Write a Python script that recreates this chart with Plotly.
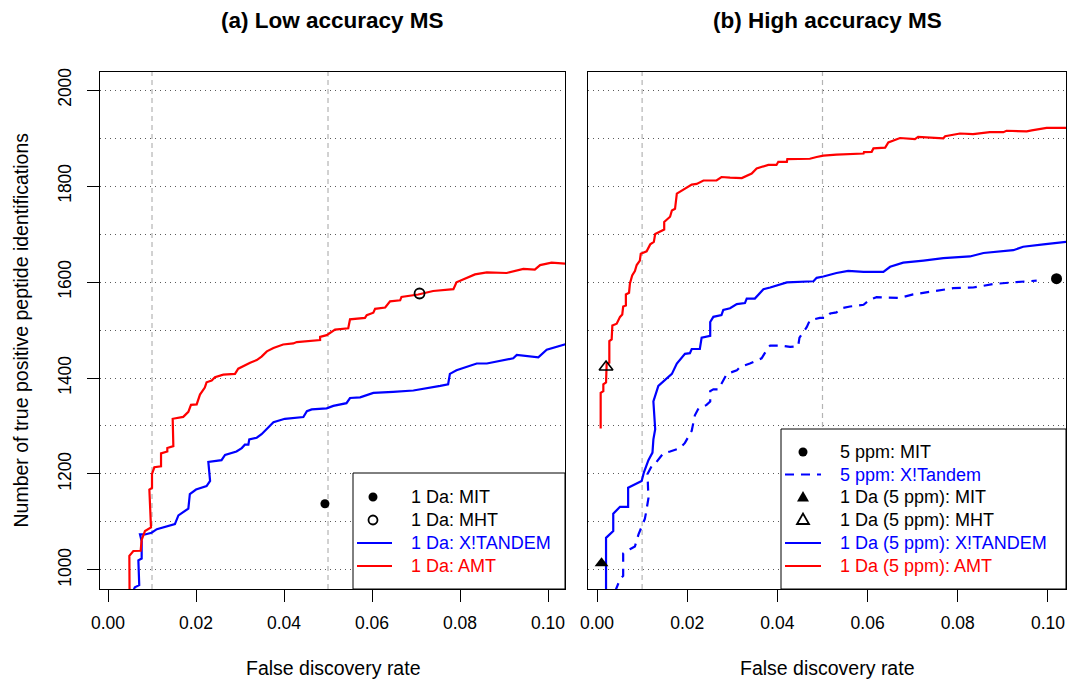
import plotly.graph_objects as go

W, H = 1074, 681

# ---------------- data: panel (a) Low accuracy MS ----------------
A_AMT_FDR = [0.0049, 0.00485, 0.00576, 0.00742, 0.00765, 0.0084, 0.00977, 0.0094, 0.0100, 0.0100,
             0.01053, 0.01205, 0.01205, 0.01348, 0.01348, 0.01485, 0.0147, 0.0156, 0.0171, 0.01826,
             0.01886, 0.02015, 0.02053, 0.0209, 0.0220, 0.0224, 0.02356, 0.0243, 0.0262, 0.02886,
             0.0296, 0.0311, 0.0323, 0.0338, 0.0349, 0.0361, 0.0376, 0.0398, 0.0421, 0.0429,
             0.0482, 0.0482, 0.0497, 0.0516, 0.0546, 0.0550, 0.0584, 0.0588, 0.0603, 0.0607,
             0.0630, 0.0641, 0.0664, 0.0667, 0.0705, 0.0739, 0.0785, 0.0792, 0.0834, 0.0861,
             0.0906, 0.0944, 0.0970, 0.0982, 0.1008, 0.1045]
A_AMT_N = [950, 1029.5, 1039.6, 1040, 1063, 1081, 1088.5, 1167.7, 1171, 1200,
           1214, 1216, 1243, 1247, 1254, 1258, 1315, 1317, 1319, 1329.5,
           1344, 1345, 1354.7, 1365.5, 1380, 1391, 1394.6, 1401.5, 1407, 1408.7,
           1419.4, 1426.6, 1431.7, 1437.4, 1444.6, 1455.4, 1462.6, 1469.8, 1472, 1474.8,
           1479, 1485.6, 1489.2, 1500.7, 1503.6, 1522.3, 1525.2, 1531, 1536, 1544,
           1546.8, 1559.7, 1561.9, 1569, 1574, 1581.3, 1585, 1599.3, 1615.8, 1620,
           1618.7, 1627.3, 1626, 1635.3, 1640.3, 1638]

A_XT_FDR = [0.0054, 0.0061, 0.0071, 0.0069, 0.00765, 0.00765, 0.00727, 0.0084, 0.0099, 0.0111,
            0.0152, 0.0160, 0.01826, 0.0186, 0.0200, 0.0224, 0.0232, 0.0228, 0.0258, 0.0266,
            0.0292, 0.0304, 0.0311, 0.0319, 0.0321, 0.0338, 0.0349, 0.0376, 0.0402, 0.0444,
            0.0452, 0.0463, 0.0497, 0.0512, 0.0542, 0.0550, 0.0573, 0.0603, 0.0648, 0.0694,
            0.0755, 0.0773, 0.0777, 0.0792, 0.0838, 0.0861, 0.0921, 0.0929, 0.0978, 0.0989,
            0.0997, 0.1045]
A_XT_N = [950, 964, 968.4, 1020, 1023.8, 1059.7, 1074, 1074, 1077.7, 1085,
          1095.7, 1113.7, 1128, 1158.3, 1167.6, 1174.8, 1185.6, 1225.2, 1228.8, 1239.6,
          1246.8, 1254, 1261, 1261, 1272, 1275.6, 1282.8, 1308, 1315, 1318.7,
          1331, 1334.6, 1336.7, 1341.8, 1347.5, 1358.3, 1359.7, 1369, 1371.2, 1374,
          1383.5, 1387, 1408.6, 1416, 1430.2, 1430.2, 1441, 1448.2, 1443, 1451.8,
          1459, 1472]

A_MIT_FDR, A_MIT_N = [0.0493], [1138]
A_MHT_FDR, A_MHT_N = [0.0708], [1576]

# ---------------- data: panel (b) High accuracy MS ----------------
B_AMT_FDR = [0.00081, 0.00081, 0.0014, 0.0014, 0.0020, 0.00214, 0.00273, 0.00273, 0.00325, 0.0034,
             0.00436, 0.0051, 0.0056, 0.0058, 0.0064, 0.0064, 0.0071, 0.0073, 0.0078, 0.0084,
             0.0088, 0.0095, 0.0097, 0.0110, 0.0118, 0.0126, 0.0129, 0.0140, 0.0149, 0.0149,
             0.0162, 0.0166, 0.0173, 0.0177, 0.0191, 0.0199, 0.0210, 0.0221, 0.0236, 0.0265,
             0.0276, 0.0295, 0.0321, 0.0343, 0.0354, 0.0380, 0.0398, 0.0402, 0.0421, 0.0422,
             0.0472, 0.0487, 0.0502, 0.0531, 0.0591, 0.0592, 0.0609, 0.0613, 0.0639, 0.0646,
             0.0672, 0.0705, 0.0712, 0.0768, 0.0772, 0.0805, 0.0834, 0.0871, 0.0901, 0.0908,
             0.0953, 0.0964, 0.0997, 0.1045]
B_AMT_N = [1295, 1369.1, 1372.7, 1387, 1390.7, 1430.2, 1431.7, 1477, 1480.6, 1509.4,
           1513, 1527.3, 1532.4, 1548.9, 1551.1, 1574.1, 1577.7, 1597.1, 1613.7, 1623,
           1635.3, 1644.6, 1659, 1664, 1678.4, 1683.5, 1700, 1705, 1709.4, 1725.2,
           1736, 1749, 1752.5, 1784.2, 1791.4, 1797.1, 1802.9, 1804.3, 1811.5, 1811.5,
           1818.7, 1817.3, 1816.6, 1826, 1836.7, 1843.9, 1843.9, 1850.4, 1850.4, 1856.1,
           1856.8, 1860.4, 1863.3, 1865.5, 1867.6, 1870.5, 1871.2, 1878.4, 1879.9, 1890.7,
           1900, 1897.8, 1902.2, 1899.3, 1903.6, 1909.4, 1907.9, 1912.2, 1912.2, 1915.1,
           1913.7, 1915.8, 1920.9, 1920.9]

B_XT_FDR = [0.0020, 0.0020, 0.0036, 0.0036, 0.0051, 0.0069, 0.0069, 0.0099, 0.0104, 0.0114,
            0.0123, 0.0125, 0.0129, 0.0125, 0.0136, 0.0158, 0.0166, 0.0177, 0.0195, 0.0206,
            0.0210, 0.0228, 0.0232, 0.0251, 0.0251, 0.0258, 0.0276, 0.0280, 0.0295, 0.0310,
            0.0328, 0.0332, 0.0350, 0.0369, 0.0384, 0.0421, 0.0480, 0.0487, 0.0502, 0.0531,
            0.0557, 0.0591, 0.0635, 0.0650, 0.0679, 0.0724, 0.0768, 0.0827, 0.0857, 0.0923,
            0.0945, 0.0990, 0.1045]
B_XT_N = [950, 1067, 1081.3, 1117.3, 1131.7, 1131.7, 1171.3, 1185.6, 1203.6, 1228.8,
          1244.6, 1272, 1293.6, 1351, 1383.5, 1401.5, 1408.6, 1430.2, 1450.4, 1451.8,
          1460.4, 1460.4, 1484.2, 1487.8, 1516.6, 1527.4, 1531, 1541.7, 1545.3, 1554,
          1556.1, 1565.5, 1565.5, 1584.9, 1588.5, 1599.3, 1601.5, 1608.6, 1611.5, 1618.7,
          1623, 1620.9, 1620.9, 1631.7, 1640.3, 1644.6, 1649.7, 1653.2, 1660.4, 1666.2,
          1673.4, 1678.4, 1684]

B_XT5_FDR = [0.0040, 0.0051, 0.0058, 0.0058, 0.0073, 0.0084, 0.0092, 0.0099, 0.0106, 0.0109,
             0.0114, 0.0112, 0.0121, 0.0132, 0.0147, 0.0162, 0.0184, 0.0195, 0.0210, 0.0217,
             0.0225, 0.0243, 0.0251, 0.0251, 0.0258, 0.0269, 0.0280, 0.0288, 0.0310, 0.0317,
             0.0339, 0.0365, 0.0380, 0.0384, 0.0406, 0.0428, 0.0446, 0.0449, 0.0465, 0.0472,
             0.0494, 0.0509, 0.0517, 0.0531, 0.0542, 0.0561, 0.0591, 0.0605, 0.0620, 0.0657,
             0.0672, 0.0701, 0.0746, 0.0790, 0.0834, 0.0879, 0.0923, 0.0975]
B_XT5_N = [955, 980.6, 987.8, 1034.6, 1043.2, 1048.9, 1074.1, 1092.1, 1106.5, 1120.9,
           1149.7, 1200, 1215.9, 1225.2, 1243.2, 1246.8, 1254, 1264.8, 1290, 1322.3,
           1336.7, 1343.9, 1351, 1372.7, 1376.3, 1376.3, 1394.3, 1408.6, 1415.8, 1423,
           1430.2, 1441, 1464, 1467.6, 1467.6, 1464.8, 1466.2, 1484.2, 1505.8, 1520.2,
           1525.2, 1525.2, 1534.5, 1536.7, 1545.3, 1548.9, 1552.5, 1563.3, 1568.4, 1566.9,
           1566.9, 1574.1, 1579.9, 1587.1, 1588.5, 1595.7, 1599.3, 1602.9]

B_MIT5_FDR, B_MIT5_N = [0.1019], [1607]
B_MIT1_FDR, B_MIT1_N = [0.0010], [1014]
B_MHT1_FDR, B_MHT1_N = [0.0020], [1423]

# ---------------- axes / labels ----------------
X_TICKS = [0.00, 0.02, 0.04, 0.06, 0.08, 0.10]
X_TICK_LABELS = ["0.00", "0.02", "0.04", "0.06", "0.08", "0.10"]
Y_TICKS = [1000, 1200, 1400, 1600, 1800, 2000]
Y_TICK_LABELS = ["1000", "1200", "1400", "1600", "1800", "2000"]
REF_FDR = [0.01, 0.05]
TITLES = ["(a) Low accuracy MS", "(b) High accuracy MS"]
X_TITLE = "False discovery rate"
Y_TITLE = "Number of true positive peptide identifications"

LEG_A = [("1 Da: MIT", "black", "dot"), ("1 Da: MHT", "black", "odot"),
         ("1 Da: X!TANDEM", "blue", "line"), ("1 Da: AMT", "red", "line")]
LEG_B = [("5 ppm: MIT", "black", "dot"), ("5 ppm: X!Tandem", "blue", "dash"),
         ("1 Da (5 ppm): MIT", "black", "tri"), ("1 Da (5 ppm): MHT", "black", "otri"),
         ("1 Da (5 ppm): X!TANDEM", "blue", "line"), ("1 Da (5 ppm): AMT", "red", "line")]

FONT = "Liberation Sans, Arial, Helvetica, sans-serif"
RED, BLUE = "#FF0000", "#0000FF"


def px(x):
    return x / W


def py(y):
    return 1 - y / H


fig = go.Figure()

# panel a curves
fig.add_trace(go.Scatter(x=A_XT_FDR, y=A_XT_N, mode="lines", line=dict(color=BLUE, width=2.2),
                         xaxis="x", yaxis="y", showlegend=False))
fig.add_trace(go.Scatter(x=A_AMT_FDR, y=A_AMT_N, mode="lines", line=dict(color=RED, width=2.2),
                         xaxis="x", yaxis="y", showlegend=False))
fig.add_trace(go.Scatter(x=A_MIT_FDR, y=A_MIT_N, mode="markers", cliponaxis=False,
                         marker=dict(symbol="circle", size=9, color="black"),
                         xaxis="x", yaxis="y", showlegend=False))
fig.add_trace(go.Scatter(x=A_MHT_FDR, y=A_MHT_N, mode="markers", cliponaxis=False,
                         marker=dict(symbol="circle-open", size=10, color="black", line=dict(width=1.8)),
                         xaxis="x", yaxis="y", showlegend=False))

# panel b curves
fig.add_trace(go.Scatter(x=B_XT5_FDR, y=B_XT5_N, mode="lines",
                         line=dict(color=BLUE, width=2.2, dash="9px,7px"),
                         xaxis="x2", yaxis="y2", showlegend=False))
fig.add_trace(go.Scatter(x=B_XT_FDR, y=B_XT_N, mode="lines", line=dict(color=BLUE, width=2.2),
                         xaxis="x2", yaxis="y2", showlegend=False))
fig.add_trace(go.Scatter(x=B_AMT_FDR, y=B_AMT_N, mode="lines", line=dict(color=RED, width=2.2),
                         xaxis="x2", yaxis="y2", showlegend=False))
fig.add_trace(go.Scatter(x=B_MIT5_FDR, y=B_MIT5_N, mode="markers", cliponaxis=False,
                         marker=dict(symbol="circle", size=11, color="black"),
                         xaxis="x2", yaxis="y2", showlegend=False))
fig.add_trace(go.Scatter(x=B_MIT1_FDR, y=B_MIT1_N, mode="markers", cliponaxis=False,
                         marker=dict(symbol="triangle-up", size=12, color="black"),
                         xaxis="x2", yaxis="y2", showlegend=False))
fig.add_trace(go.Scatter(x=B_MHT1_FDR, y=B_MHT1_N, mode="markers", cliponaxis=False,
                         marker=dict(symbol="triangle-up-open", size=12, color="black",
                                     line=dict(width=1.6)),
                         xaxis="x2", yaxis="y2", showlegend=False))

# axes
xcommon = dict(tickvals=X_TICKS, ticktext=X_TICK_LABELS, ticks="outside", ticklen=12,
               tickwidth=1, tickcolor="black", showline=True, linecolor="black", linewidth=1,
               mirror=True, showgrid=False, zeroline=False, ticklabelstandoff=6, automargin=False,
               tickfont=dict(family=FONT, size=17.5, color="black"))
ycommon = dict(range=[960.4, 2037.5], tickvals=Y_TICKS, ticktext=Y_TICK_LABELS,
               showline=True, linecolor="black", linewidth=1, mirror=True, zeroline=False,
               showgrid=True, gridcolor="#5a5a5a", gridwidth=1, griddash="1px,4px",
               automargin=False,
               minor=dict(dtick=100, tick0=1000, showgrid=True, gridcolor="#5a5a5a",
                          gridwidth=1, griddash="1px,4px", ticks=""),
               tickfont=dict(family=FONT, size=17.5, color="black"), tickangle=-90,
               domain=[py(589), py(72)])

fig.update_layout(
    width=W, height=H, margin=dict(l=0, r=0, t=0, b=0, autoexpand=False),
    paper_bgcolor="white", plot_bgcolor="white",
    font=dict(family=FONT, color="black"),
    xaxis=dict(domain=[px(100), px(565)], range=[-0.00182, 0.10386], anchor="y", **xcommon),
    yaxis=dict(anchor="x", ticks="outside", ticklen=12, tickcolor="black", tickwidth=1,
               ticklabelstandoff=9, **ycommon),
    xaxis2=dict(domain=[px(588), px(1066)], range=[-0.0020, 0.1040], anchor="y2", **xcommon),
    yaxis2=dict(anchor="x2", ticks="", showticklabels=False, **ycommon),
)

shapes = []
# reference dashed lines
for xr, yr in (("x", "y domain"), ("x2", "y2 domain")):
    for v in REF_FDR:
        shapes.append(dict(type="line", xref=xr, yref=yr, x0=v, x1=v, y0=0, y1=1, layer="below",
                           line=dict(color="#B4B4B4", width=1.2, dash="5px,4px")))

annotations = []
# titles
for t, cx in zip(TITLES, (332.5, 827)):
    annotations.append(dict(text="<b>%s</b>" % t, x=px(cx), y=py(20), xref="paper", yref="paper",
                            showarrow=False, xanchor="center", yanchor="middle",
                            font=dict(family=FONT, size=22.5, color="black")))
    annotations.append(dict(text=X_TITLE, x=px(cx), y=py(668), xref="paper", yref="paper",
                            showarrow=False, xanchor="center", yanchor="middle",
                            font=dict(family=FONT, size=19.5, color="black")))
annotations.append(dict(text=Y_TITLE, x=px(20), y=py(330.5), xref="paper", yref="paper",
                        showarrow=False, textangle=-90, xanchor="center", yanchor="middle",
                        font=dict(family=FONT, size=19.5, color="black")))


def legend(entries, box, rows, sym_x, line_x, text_x):
    x0, y0, x1, y1 = box
    shapes.append(dict(type="rect", xref="paper", yref="paper", x0=px(x0), x1=px(x1),
                       y0=py(y1), y1=py(y0), fillcolor="white", layer="above",
                       line=dict(color="black", width=1)))
    for (label, col, kind), ry in zip(entries, rows):
        if kind in ("line", "dash"):
            shapes.append(dict(type="line", xref="paper", yref="paper", x0=px(line_x[0]),
                               x1=px(line_x[1]), y0=py(ry), y1=py(ry), layer="above",
                               line=dict(color=col, width=2.2,
                                         dash="9px,7px" if kind == "dash" else "solid")))
        elif kind in ("dot", "odot"):
            r = 4.5
            shapes.append(dict(type="circle", xref="paper", yref="paper", xsizemode="pixel",
                               ysizemode="pixel", xanchor=px(sym_x), yanchor=py(ry),
                               x0=-r, x1=r, y0=-r, y1=r, layer="above",
                               fillcolor="black" if kind == "dot" else "white",
                               line=dict(color="black", width=0 if kind == "dot" else 1.8)))
        else:
            shapes.append(dict(type="path", xref="paper", yref="paper", xsizemode="pixel",
                               ysizemode="pixel", xanchor=px(sym_x), yanchor=py(ry),
                               path="M -6,-4.5 L 6,-4.5 L 0,6 Z", layer="above",
                               fillcolor="black" if kind == "tri" else "white",
                               line=dict(color="black", width=0 if kind == "tri" else 1.8)))
        annotations.append(dict(text=label, x=px(text_x), y=py(ry), xref="paper", yref="paper",
                                showarrow=False, xanchor="left", yanchor="middle",
                                font=dict(family=FONT, size=18, color=col)))


legend(LEG_A, (353, 473, 565, 589), [497, 520, 543, 566], 373, (357, 392), 409)
legend(LEG_B, (781, 429, 1066, 589), [452, 474.5, 497, 519.5, 543, 566], 803, (785, 821), 838)

fig.update_layout(shapes=shapes, annotations=annotations)
fig.write_html("out.html")
